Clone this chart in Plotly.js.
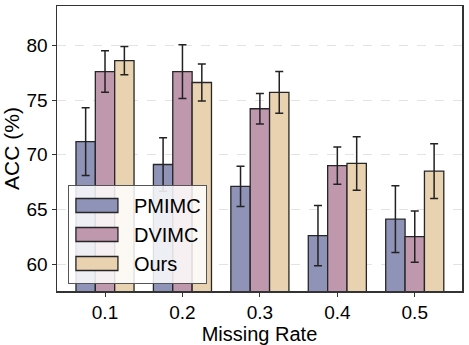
<!DOCTYPE html>
<html>
<head>
<meta charset="utf-8">
<script src="https://cdn.plot.ly/plotly-3.0.1.min.js"></script>
<style>html,body{margin:0;padding:0;background:#fff;}#chart{width:469px;height:345px;}</style>
</head>
<body>
<div id="chart"></div>
<script>
const categories = ["0.1", "0.2", "0.3", "0.4", "0.5"];
const seriesNames = ["PMIMC", "DVIMC", "Ours"];
const pmimc = [71.2, 69.1, 67.1, 62.6, 64.1];
const pmimcErr = [3.1, 2.45, 1.85, 2.75, 3.05];
const dvimc = [77.6, 77.6, 74.2, 69.0, 62.5];
const dvimcErr = [1.9, 2.45, 1.4, 1.7, 2.35];
const ours = [78.6, 76.6, 75.7, 69.2, 68.5];
const oursErr = [1.3, 1.7, 1.9, 2.45, 2.5];
const yTicks = [60, 65, 70, 75, 80];

const colors = ["#8f93b7", "#bf98ae", "#e9d2b0"];
const vals = [pmimc, dvimc, ours];
const errs = [pmimcErr, dvimcErr, oursErr];

const traces = seriesNames.map((n, i) => ({
  type: "bar",
  name: n,
  x: categories,
  y: vals[i],
  marker: {color: colors[i], line: {color: "#262626", width: 1.3}},
  error_y: {type: "data", array: errs[i], visible: true, color: "#222", thickness: 1.5, width: 4}
}));

const font = "Liberation Sans, Arial, sans-serif";
const layout = {
  width: 469, height: 345,
  margin: {l: 57, r: 7, t: 6, b: 54},
  paper_bgcolor: "#fff", plot_bgcolor: "#fff",
  barmode: "group", bargap: 0.25, bargroupgap: 0,
  font: {family: font, color: "#000"},
  showlegend: true,
  legend: {
    x: 0.027, y: 0.372, xanchor: "left", yanchor: "top",
    itemwidth: 55,
    bgcolor: "rgba(255,255,255,0.85)", bordercolor: "#555", borderwidth: 1,
    font: {size: 20, family: font, color: "#000"}
  },
  xaxis: {
    type: "category", range: [-0.62, 4.61],
    showline: true, mirror: true, linecolor: "#333", linewidth: 1.5,
    ticks: "outside", ticklen: 4, tickcolor: "#333",
    tickfont: {size: 19, family: font, color: "#000"},
    title: {text: "Missing Rate", font: {size: 20, family: font, color: "#000"}, standoff: 2},
    showgrid: false, zeroline: false
  },
  yaxis: {
    range: [57.53, 83.6], tickvals: yTicks, ticktext: yTicks.map(String),
    showline: true, mirror: true, linecolor: "#333", linewidth: 1.5,
    ticks: "outside", ticklen: 4, tickcolor: "#333",
    tickfont: {size: 19, family: font, color: "#000"},
    title: {text: "ACC (%)", font: {size: 21, family: font, color: "#000"}, standoff: 6},
    showgrid: true, gridcolor: "#e3e3e3", griddash: "dash", gridwidth: 1, zeroline: false
  }
};

Plotly.newPlot("chart", traces, layout, {displayModeBar: false, staticPlot: true}).then(gd => {
  // widen legend swatches to match the reference's rectangular patches
  gd.querySelectorAll(".legend .legendpoints path").forEach(p => {
    p.setAttribute("d", "M16.5,7H-25.5V-7H16.5Z");
  });
});
</script>
</body>
</html>
